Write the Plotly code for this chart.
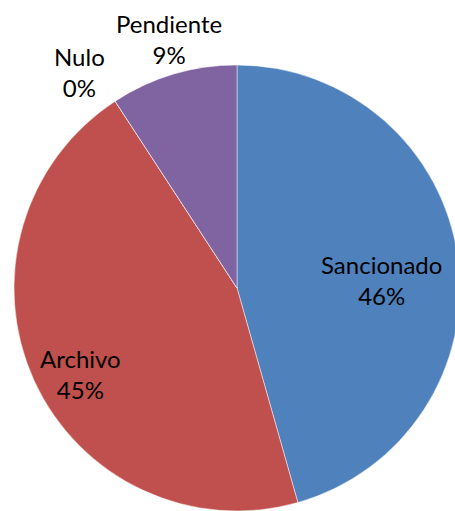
import plotly.graph_objects as go

labels = ["Sancionado", "Archivo", "Nulo", "Pendiente"]
values = [45.6, 45.2, 0.0, 9.2]
colors = ["#4F81BD", "#C0504D", "#9BBB59", "#8064A2"]

# label positions (pixels) in the figure
label_px = {
    "Sancionado": (381, 280),
    "Archivo": (80, 374),
    "Nulo": (79, 72),
    "Pendiente": (169, 39),
}

W, H = 460, 511
total = sum(values)
pcts = [round(v / total * 100) for v in values]

fig = go.Figure(go.Pie(
    labels=labels,
    values=values,
    marker=dict(colors=colors, line=dict(color="rgba(255,255,255,0.6)", width=0.8)),
    sort=False,
    direction="clockwise",
    rotation=0,
    textinfo="none",
    hoverinfo="label+percent",
    showlegend=False,
    domain=dict(x=[14 / W, 1.0], y=[0.0, 1 - 65 / H]),
))

annotations = []
for lab, p in zip(labels, pcts):
    px, py = label_px[lab]
    annotations.append(dict(
        x=px / W, y=1 - py / H, xref="paper", yref="paper",
        text=f"{lab}<br>{p}%", showarrow=False,
        xanchor="center", yanchor="middle",
        font=dict(family="Lato", size=24, color="#000000"),
    ))

fig.update_layout(
    width=W, height=H,
    margin=dict(l=0, r=0, t=0, b=0),
    paper_bgcolor="white", plot_bgcolor="white",
    annotations=annotations,
)

fig.write_html("out.html")
